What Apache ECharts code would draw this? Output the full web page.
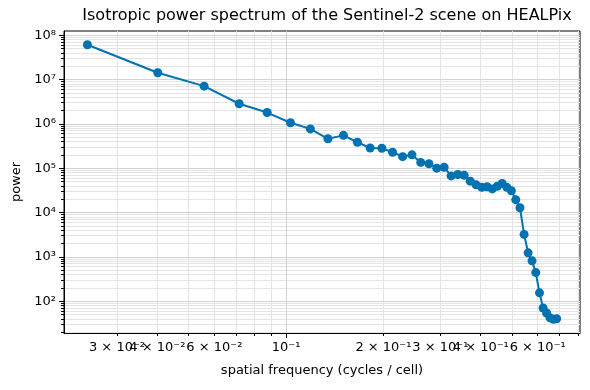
<!DOCTYPE html>
<html>
<head>
<meta charset="utf-8">
<script src="https://cdn.jsdelivr.net/npm/echarts@6/dist/echarts.min.js"></script>
<style>
html, body { margin: 0; padding: 0; background: #fff; }
#chart { width: 590px; height: 390px; }
</style>
</head>
<body>
<div id="chart"></div>
<script>
/* power spectrum data */
var freq = [0.0243, 0.0401, 0.0558, 0.0716, 0.0874, 0.1032, 0.1189, 0.1347, 0.1505, 0.1662,
            0.1820, 0.1978, 0.2135, 0.2293, 0.2451, 0.2609, 0.2766, 0.2924, 0.3082, 0.3239,
            0.3397, 0.3555, 0.3712, 0.3870, 0.4028, 0.4186, 0.4343, 0.4501, 0.4659, 0.4816,
            0.4974, 0.5132, 0.5289, 0.5447, 0.5605, 0.5763, 0.5920, 0.6078, 0.6236, 0.6393,
            0.6551, 0.6709, 0.6866];
var power = [6.1e7, 1.42e7, 7.1e6, 2.84e6, 1.8e6, 1.06e6, 7.7e5, 4.6e5, 5.5e5, 3.85e5,
             2.85e5, 2.82e5, 2.29e5, 1.82e5, 2.0e5, 1.35e5, 1.26e5, 1.0e5, 1.05e5, 6.7e4,
             7.2e4, 6.9e4, 5.1e4, 4.2e4, 3.7e4, 3.8e4, 3.4e4, 3.9e4, 4.5e4, 3.7e4,
             3.1e4, 1.95e4, 1.28e4, 3.2e3, 1.23e3, 810, 440, 154, 70, 54,
             42, 39, 40];

/* ticks; labels split over two axes so ECharts does not drop overlapping ones */
var xLabelValsA = [0.03, 0.06, 0.1, 0.2, 0.3, 0.4, 0.6];
var xLabelValsB = [0.04];
var xMajorVals = [0.1];
var xMinorVals = [0.03, 0.04, 0.05, 0.06, 0.07, 0.08, 0.09, 0.2, 0.3, 0.4, 0.5, 0.6, 0.7, 0.8];
var yMajorVals = [1e2, 1e3, 1e4, 1e5, 1e6, 1e7, 1e8];
var yMinorVals = [];
for (var e = 1; e <= 7; e++) {
    for (var m = 2; m <= 9; m++) {
        var v = m * Math.pow(10, e);
        if (v >= 20 && v < 1.2e8) yMinorVals.push(v);
    }
}

var X_MIN = 0.02057, X_MAX = 0.811;
var Y_MIN = 19.1, Y_MAX = 1.245e8;
var FONT = 'DejaVu Sans';

var SUP = {'-': '\u207B', '0': '\u2070', '1': '\u00B9', '2': '\u00B2', '3': '\u00B3', '4': '\u2074',
           '5': '\u2075', '6': '\u2076', '7': '\u2077', '8': '\u2078', '9': '\u2079'};
function sup(s) {
    return String(s).split('').map(function (c) { return SUP[c] || c; }).join('');
}
function sciLabel(v) {
    var ex = Math.floor(Math.log10(v) + 1e-9);
    var mant = Math.round(v / Math.pow(10, ex));
    var p = '10' + sup(ex);
    return mant === 1 ? p : mant + ' \u00D7 ' + p;
}
var labelStyle = {margin: 8, fontFamily: FONT, fontSize: 13, color: '#000',
                  showMinLabel: true, showMaxLabel: true, hideOverlap: false, formatter: sciLabel};

var chart = echarts.init(document.getElementById('chart'));
var option = {
    animation: false,
    backgroundColor: '#fff',
    title: {
        text: 'Isotropic power spectrum of the Sentinel-2 scene on HEALPix',
        left: 322,
        top: 3,
        textAlign: 'center',
        textStyle: {fontFamily: FONT, fontSize: 16, fontWeight: 'normal', color: '#000'}
    },
    grid: {
        left: 64, right: 10, top: 31, bottom: 57,
        show: true, borderColor: '#000', borderWidth: 1, backgroundColor: 'transparent'
    },
    xAxis: [
        {
            type: 'log', min: X_MIN, max: X_MAX, position: 'bottom', z: 3,
            name: 'spatial frequency (cycles / cell)',
            nameLocation: 'middle', nameGap: 31,
            nameTextStyle: {fontFamily: FONT, fontSize: 13, color: '#000'},
            axisLine: {show: true, lineStyle: {color: '#000', width: 1}},
            axisTick: {show: true, customValues: xMajorVals, length: 5, lineStyle: {color: '#000', width: 1}},
            axisLabel: Object.assign({customValues: xLabelValsA}, labelStyle),
            splitLine: {show: true, lineStyle: {color: '#d2d2d2', width: 1}}
        },
        {
            type: 'log', min: X_MIN, max: X_MAX, position: 'bottom', z: 2,
            axisLine: {show: false},
            axisTick: {show: true, customValues: xMinorVals, length: 3, lineStyle: {color: '#000', width: 1}},
            axisLabel: Object.assign({customValues: xLabelValsB}, labelStyle),
            splitLine: {show: true, lineStyle: {color: '#e4e4e4', width: 1}}
        }
    ],
    yAxis: [
        {
            type: 'log', min: Y_MIN, max: Y_MAX, position: 'left', z: 3,
            name: 'power', nameLocation: 'middle', nameGap: 40,
            nameTextStyle: {fontFamily: FONT, fontSize: 13, color: '#000'},
            axisLine: {show: true, lineStyle: {color: '#000', width: 1}},
            axisTick: {show: true, customValues: yMajorVals, length: 5, lineStyle: {color: '#000', width: 1}},
            axisLabel: Object.assign({customValues: yMajorVals}, labelStyle),
            splitLine: {show: true, lineStyle: {color: '#d2d2d2', width: 1}}
        },
        {
            type: 'log', min: Y_MIN, max: Y_MAX, position: 'left', z: 2,
            axisLine: {show: false},
            axisTick: {show: true, customValues: yMinorVals, length: 3, lineStyle: {color: '#000', width: 1}},
            axisLabel: {show: false},
            splitLine: {show: true, lineStyle: {color: '#e4e4e4', width: 1}}
        }
    ],
    series: [{
        type: 'line',
        xAxisIndex: 0, yAxisIndex: 0,
        data: freq.map(function (f, i) { return [f, power[i]]; }),
        symbol: 'circle', symbolSize: 9,
        showAllSymbol: true,
        lineStyle: {color: '#0072B2', width: 2},
        itemStyle: {color: '#0072B2'},
        z: 5
    }]
};
chart.setOption(option);
</script>
</body>
</html>
